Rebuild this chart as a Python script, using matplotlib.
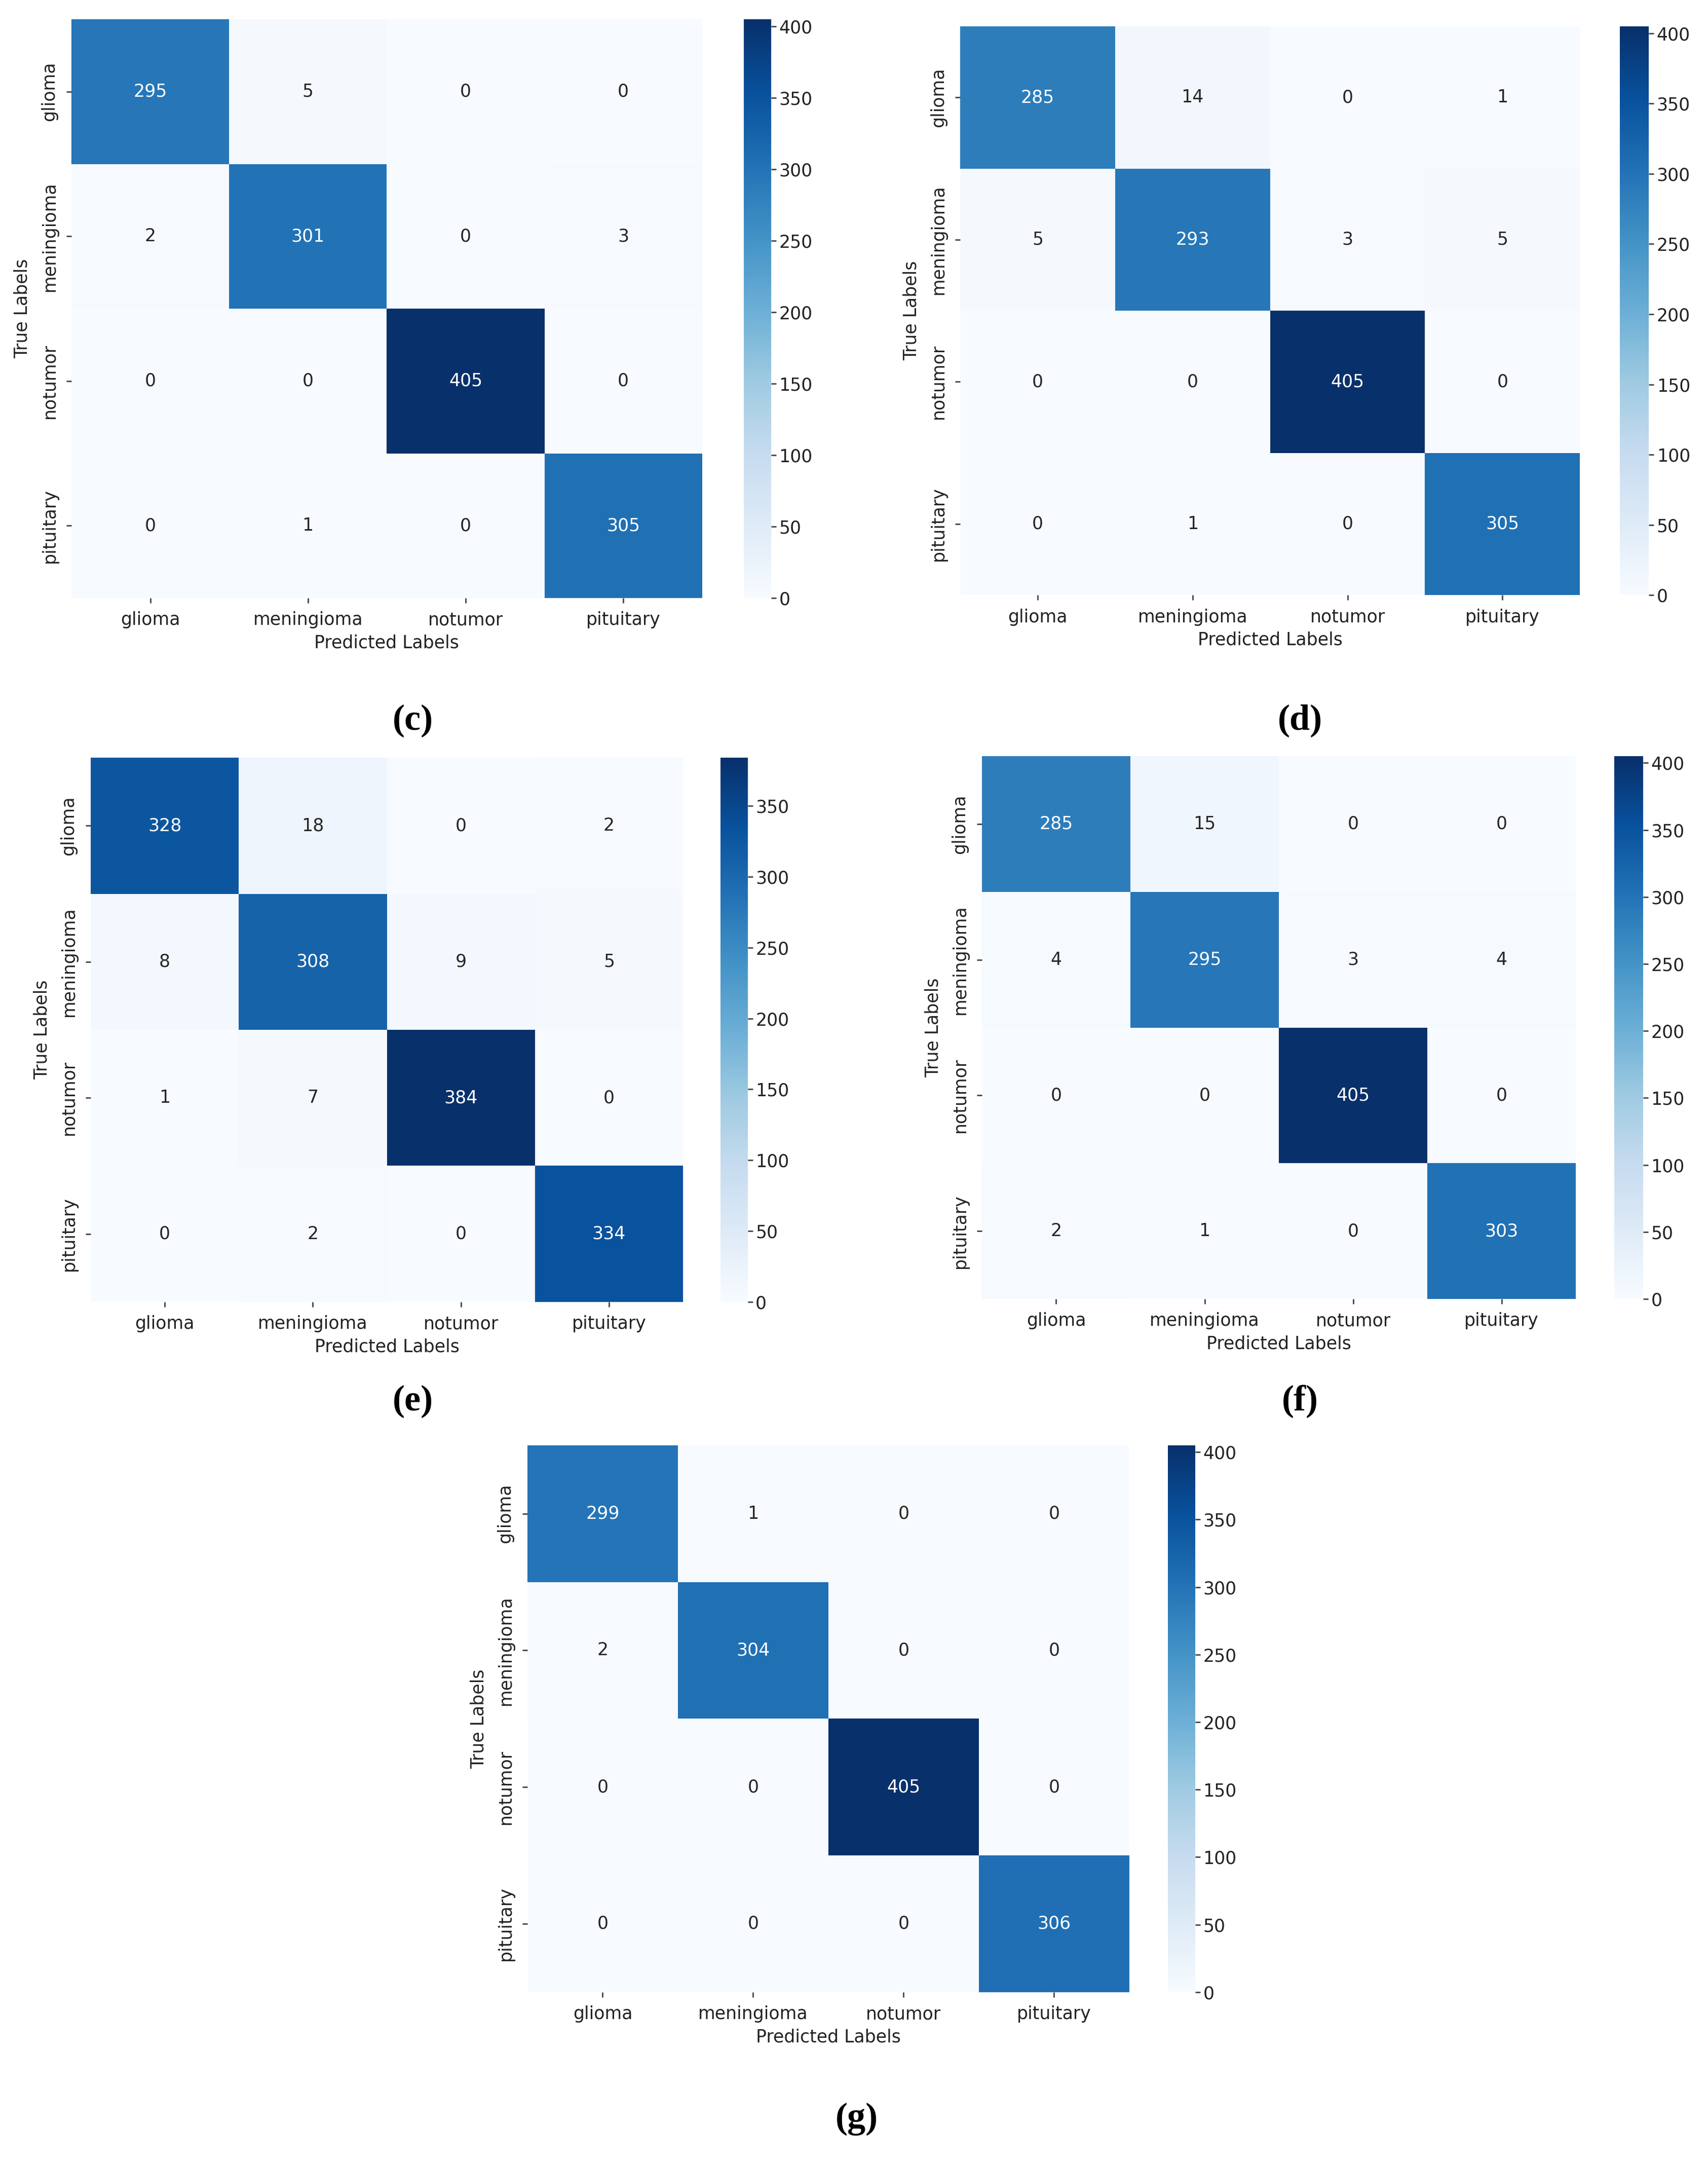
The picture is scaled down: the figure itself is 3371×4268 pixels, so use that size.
import matplotlib
matplotlib.use('Agg')
import matplotlib.pyplot as plt
import seaborn as sns
import numpy as np

# class names and confusion matrices
classes = ['glioma', 'meningioma', 'notumor', 'pituitary']

cm_c = [[295, 5, 0, 0],
        [2, 301, 0, 3],
        [0, 0, 405, 0],
        [0, 1, 0, 305]]
cm_d = [[285, 14, 0, 1],
        [5, 293, 3, 5],
        [0, 0, 405, 0],
        [0, 1, 0, 305]]
cm_e = [[328, 18, 0, 2],
        [8, 308, 9, 5],
        [1, 7, 384, 0],
        [0, 2, 0, 334]]
cm_f = [[285, 15, 0, 0],
        [4, 295, 3, 4],
        [0, 0, 405, 0],
        [2, 1, 0, 303]]
cm_g = [[299, 1, 0, 0],
        [2, 304, 0, 0],
        [0, 0, 405, 0],
        [0, 0, 0, 306]]

panel_names = ['(c)', '(d)', '(e)', '(f)', '(g)']
matrices = [cm_c, cm_d, cm_e, cm_f, cm_g]

# layout: heatmap rect, colorbar rect, caption position (figure fractions)
layout = [
    ([0.0418, 0.7235, 0.3693, 0.2676], [0.4355, 0.7235, 0.016, 0.2676], (0.2418, 0.6668)),
    ([0.5622, 0.7249, 0.3628, 0.2629], [0.9484, 0.7249, 0.017, 0.2629], (0.7612, 0.6668)),
    ([0.0531, 0.3981, 0.3468, 0.2516], [0.4218, 0.3981, 0.016, 0.2516], (0.2418, 0.3522)),
    ([0.5749, 0.3995, 0.3477, 0.2509], [0.9451, 0.3995, 0.017, 0.2509], (0.7612, 0.3522)),
    ([0.3088, 0.0790, 0.3524, 0.2528], [0.6838, 0.0790, 0.016, 0.2528], (0.5016, 0.0204)),
]

fs = 25

fig = plt.figure(figsize=(33.71, 42.68), dpi=100)

for name, cm, (ax_rect, cb_rect, cap) in zip(panel_names, matrices, layout):
    ax = fig.add_axes(ax_rect)
    cax = fig.add_axes(cb_rect)
    sns.heatmap(np.array(cm), annot=True, fmt='d', cmap='Blues', ax=ax, cbar_ax=cax,
                xticklabels=classes, yticklabels=classes,
                annot_kws={'fontsize': fs})
    ax.set_xlabel('Predicted Labels', fontsize=fs, labelpad=8, color='#222222')
    ax.set_ylabel('True Labels', fontsize=fs, labelpad=14, color='#222222')
    ax.tick_params(axis='both', labelsize=fs, length=7, width=2, pad=12,
                   colors='#444444', labelcolor='#222222')
    plt.setp(ax.get_yticklabels(), rotation=90, va='center')
    plt.setp(ax.get_xticklabels(), rotation=0)
    cax.tick_params(labelsize=fs, length=7, width=2, pad=4,
                    colors='#444444', labelcolor='#222222')
    fig.text(cap[0], cap[1], name, ha='center', va='center',
             fontsize=52, fontweight='bold', family='Liberation Serif')

fig.savefig('out.png', dpi=100)
